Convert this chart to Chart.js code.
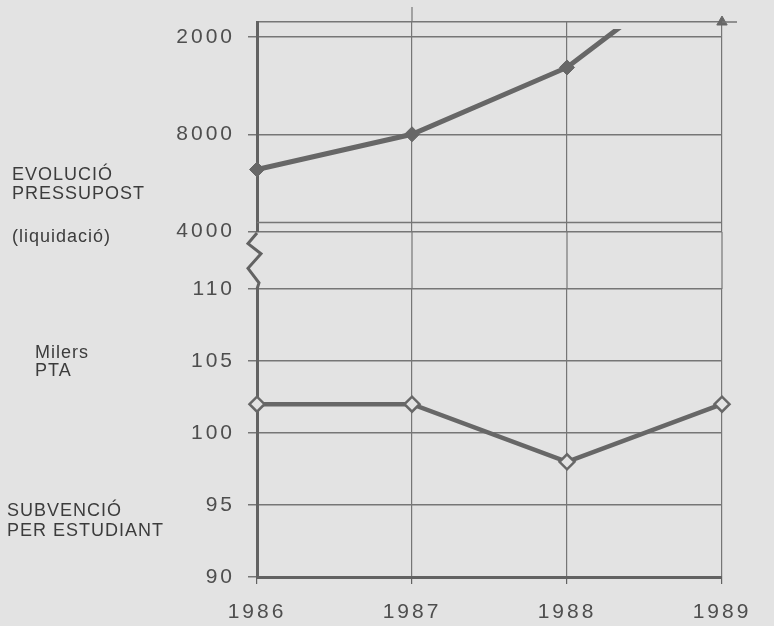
<!DOCTYPE html>
<html>
<head>
<meta charset="utf-8">
<script src="https://cdn.jsdelivr.net/npm/chart.js@4.4.0/dist/chart.umd.min.js"></script>
<style>
	html, body { margin: 0; padding: 0; background: #e3e3e3; }
	#wrap { position: relative; width: 774px; height: 626px; overflow: hidden; font-family: "Liberation Sans", Arial, sans-serif; color: #3c3c3c; }
	#wrap canvas { position: absolute; left: 0; }
	.lbl { position: absolute; font-size: 18px; line-height: 18px; letter-spacing: 1px; white-space: nowrap; }
</style>
</head>
<body>
<div id="wrap">
	<canvas id="chartBudget" width="774" height="240" style="top:0"></canvas>
	<canvas id="chartSubsidy" width="774" height="394" style="top:232px"></canvas>
	<div class="lbl" style="left:12px;top:165px">EVOLUCIÓ</div>
	<div class="lbl" style="left:12px;top:184px">PRESSUPOST</div>
	<div class="lbl" style="left:12px;top:227px">(liquidació)</div>
	<div class="lbl" style="left:35px;top:343px">Milers</div>
	<div class="lbl" style="left:35px;top:361px">PTA</div>
	<div class="lbl" style="left:7px;top:501px">SUBVENCIÓ</div>
	<div class="lbl" style="left:7px;top:521px">PER ESTUDIANT</div>
</div>
<script>
const years = ['1986', '1987', '1988', '1989'];
const budget = [6550, 8000, 10750, 15600];
const subsidy = [102, 102, 98, 102];
const budgetTicks = [4000, 8000, 12000];
const budgetTickLabels = ['4000', '8000', '2000'];
const subsidyTicks = [90, 95, 100, 105, 110];

const BUDGET_MIN = 4000;
const BUDGET_MAX = 12620;
const LINE = '#676767';
const GRID = '#767676';
const AXIS = '#626262';
const TICK_FONT = { family: '"Liberation Sans", Arial, sans-serif', size: 21 };
const TICK_COLOR = '#4e4e4e';

// canvas letter spacing for the wide tick digits
const spacing = {
	id: 'spacing',
	beforeDraw: (chart) => { chart.ctx.letterSpacing = '3px'; }
};

const fitY = (s) => {
	s.width = 257;
	s.paddingTop = 0;
	s.paddingBottom = 0;
};

const budgetExtras = {
	id: 'budgetExtras',
	afterDraw: (chart) => {
		const { ctx, chartArea } = chart;
		const x = chart.scales.x;
		ctx.save();
		ctx.strokeStyle = GRID;
		ctx.lineWidth = 1.5;
		ctx.beginPath();
		ctx.moveTo(chartArea.left, chartArea.bottom - 9);
		ctx.lineTo(chartArea.right, chartArea.bottom - 9);
		ctx.moveTo(chartArea.right, chartArea.top);
		ctx.lineTo(chartArea.right + 15, chartArea.top);
		ctx.stroke();
		ctx.lineWidth = 1.2;
		ctx.beginPath();
		const x1 = x.getPixelForValue(1);
		ctx.moveTo(x1, chartArea.top);
		ctx.lineTo(x1, 7);
		ctx.stroke();
		ctx.restore();
	}
};

const subsidyExtras = {
	id: 'subsidyExtras',
	beforeDatasetsDraw: (chart) => {
		const { ctx, chartArea } = chart;
		const x = chart.scales.x;
		const top = chartArea.top;
		ctx.save();
		ctx.strokeStyle = GRID;
		ctx.lineWidth = 1.2;
		for (let i = 1; i < years.length; i++) {
			const px = x.getPixelForValue(i);
			ctx.beginPath();
			ctx.moveTo(px, 0);
			ctx.lineTo(px, top);
			ctx.stroke();
		}
		// axis break
		const x0 = chartArea.left;
		const zig = [[0, 0], [-9, 0.19], [4, 0.37], [-9, 0.63], [2, 0.89], [0, 1]];
		ctx.strokeStyle = AXIS;
		ctx.lineWidth = 3;
		ctx.lineJoin = 'miter';
		ctx.beginPath();
		zig.forEach(([dx, f], i) => {
			const py = 1 + f * (top - 1);
			if (i === 0) ctx.moveTo(x0 + dx, py); else ctx.lineTo(x0 + dx, py);
		});
		ctx.stroke();
		ctx.restore();
	}
};

new Chart(document.getElementById('chartBudget'), {
	type: 'line',
	data: {
		labels: years,
		datasets: [
			{
				data: budget,
				borderColor: LINE,
				borderWidth: 5,
				tension: 0,
				pointStyle: 'rectRot',
				pointRadius: budget.map(v => v > BUDGET_MAX ? 0 : 7.5),
				pointBackgroundColor: LINE,
				pointBorderColor: LINE,
				pointBorderWidth: 1,
				clip: { left: 12, top: -7, right: 12, bottom: 12 }
			},
			{
				data: budget.map(v => v > BUDGET_MAX ? BUDGET_MAX : null),
				showLine: false,
				pointStyle: 'triangle',
				pointRadius: 6,
				pointBackgroundColor: LINE,
				pointBorderColor: LINE,
				clip: false
			}
		]
	},
	options: {
		responsive: false,
		animation: false,
		layout: { padding: { top: 22, right: 52, left: 0, bottom: 0 } },
		plugins: { legend: { display: false }, tooltip: { enabled: false } },
		scales: {
			x: {
				offset: false,
				grid: { color: GRID, lineWidth: 1.2, drawTicks: false },
				border: { display: false },
				ticks: { display: false },
				afterFit: (s) => { s.height = 8; s.paddingLeft = 0; s.paddingRight = 0; }
			},
			y: {
				min: BUDGET_MIN,
				max: BUDGET_MAX,
				afterBuildTicks: (s) => { s.ticks = budgetTicks.concat(BUDGET_MAX).map(v => ({ value: v })); },
				ticks: {
					font: TICK_FONT,
					color: TICK_COLOR,
					padding: 13,
					callback: (v) => { const i = budgetTicks.indexOf(v); return i < 0 ? '' : budgetTickLabels[i]; }
				},
				grid: {
					color: GRID,
					lineWidth: 1.5,
					tickLength: 9,
					tickColor: (c) => c.tick && c.tick.value === BUDGET_MAX ? 'rgba(0,0,0,0)' : GRID
				},
				border: { color: AXIS, width: 3 },
				afterFit: fitY
			}
		}
	},
	plugins: [spacing, budgetExtras]
});

new Chart(document.getElementById('chartSubsidy'), {
	type: 'line',
	data: {
		labels: years,
		datasets: [{
			data: subsidy,
			borderColor: LINE,
			borderWidth: 4.5,
			tension: 0,
			pointStyle: 'rectRot',
			pointRadius: 7.5,
			pointBorderWidth: 2.5,
			pointBackgroundColor: '#e3e3e3',
			pointBorderColor: LINE,
			clip: false
		}]
	},
	options: {
		responsive: false,
		animation: false,
		layout: { padding: { top: 57, right: 52, left: 0, bottom: 0 } },
		plugins: { legend: { display: false }, tooltip: { enabled: false } },
		scales: {
			x: {
				offset: false,
				grid: { color: GRID, lineWidth: 1.2, tickLength: 7, tickColor: AXIS },
				border: { color: AXIS, width: 3 },
				ticks: { font: TICK_FONT, color: TICK_COLOR, padding: 16, maxRotation: 0 },
				afterFit: (s) => { s.height = 49; s.paddingLeft = 0; s.paddingRight = 0; }
			},
			y: {
				min: subsidyTicks[0],
				max: subsidyTicks[subsidyTicks.length - 1],
				afterBuildTicks: (s) => { s.ticks = subsidyTicks.map(v => ({ value: v })); },
				ticks: { font: TICK_FONT, color: TICK_COLOR, padding: 13 },
				grid: { color: GRID, lineWidth: 1.5, tickLength: 9 },
				border: { color: AXIS, width: 3 },
				afterFit: fitY
			}
		}
	},
	plugins: [spacing, subsidyExtras]
});
</script>
</body>
</html>
